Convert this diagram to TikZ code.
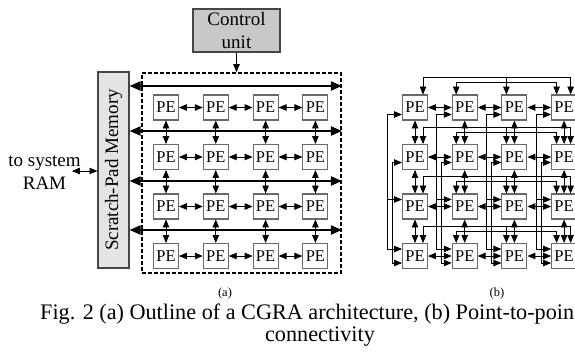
\documentclass[tikz,border=0pt]{standalone}
\usepackage{fontspec}
\setmainfont{Liberation Serif}
\usepackage{tikz}
\usetikzlibrary{arrows,arrows.meta}

\begin{document}
\begin{tikzpicture}[x=1pt,y=-1pt,
  pebox/.style={draw=peColor,fill=white,line width=1.1pt,minimum size=25pt,inner sep=0pt,font=\fontsize{16.5}{18}\selectfont},
  link/.style={<->,>=triangle 45,line width=0.8pt},
  tap/.style={->,>=triangle 45,line width=0.8pt},
  bus/.style={{Triangle[length=11pt,width=9pt]}-{Triangle[length=11pt,width=9pt]},line width=2pt},
  lbl/.style={font=\fontsize{19}{22.7}\selectfont,align=center},
  sublbl/.style={font=\fontsize{12.5}{14}\selectfont,inner sep=0pt}]
\useasboundingbox (0,0) rectangle (575,356);
\clip (0,0) rectangle (575,356);
\definecolor{peColor}{RGB}{105,105,105}
\definecolor{boxBorder}{RGB}{70,70,70}
\definecolor{cuFill}{RGB}{200,200,200}
\definecolor{spmFill}{RGB}{228,228,228}

% (a) control unit, scratch-pad and the PE array
\node[draw=boxBorder,fill=cuFill,line width=1.1pt,minimum width=87pt,minimum height=43pt,inner sep=1pt,lbl] (cu) at (236.5,30.5) {Control\\unit};
\node[draw=boxBorder,fill=spmFill,line width=1.1pt,minimum width=31pt,minimum height=196pt,inner sep=0pt,lbl] (spm) at (113.5,170) {\rotatebox{90}{Scratch-Pad Memory}};
\node[draw,line width=1.8pt,dash pattern=on 4pt off 2pt,minimum width=199pt,minimum height=200pt,inner sep=0pt] (array) at (241.5,173) {};
\foreach \r in {1,...,4}
  \foreach \c in {1,...,4}
    \node[pebox] (a-\r-\c) at ({166+49.8*(\c-1)},{107.5+49.5*(\r-1)}) {PE};
\foreach \i/\y in {1/86,2/131,3/181,4/230} {
  \coordinate (bus-\i) at (0,\y);
  \draw[bus] (spm.east |- bus-\i) -- (array.east |- bus-\i);
}
\foreach \r in {1,...,4}
  \foreach \c/\d in {1/2,2/3,3/4}
    \draw[link] (a-\r-\c.east) -- (a-\r-\d.west);
\foreach \r/\s in {1/2,2/3,3/4}
  \foreach \c in {1,...,4}
    \draw[link] (a-\r-\c.south) -- (a-\s-\c.north);
\draw[tap] (cu.south) -- (cu.south |- array.north);
\node[lbl] (ram) at (44.5,172.5) {to system\\RAM};
\coordinate (ramport) at (72,171);
\draw[link] (ramport) -- (spm.west |- ramport);
\node[sublbl] (sub-a) at (225,293) {(a)};

% (b) point-to-point wiring
\foreach \r in {1,...,4}
  \foreach \c in {1,...,4}
    \node[pebox] (b-\r-\c) at ({415+49.7*(\c-1)},{107.5+49.5*(\r-1)}) {PE};
\foreach \r in {1,...,4}
  \foreach \c/\d in {1/2,2/3,3/4}
    \draw[link] (b-\r-\c.east) -- (b-\r-\d.west);
\foreach \r/\s in {1/2,2/3,3/4}
  \foreach \c in {1,...,4}
    \draw[link] (b-\r-\c.south) -- (b-\s-\c.north);
\foreach \r in {1,...,4} {
  \draw[link] ([xshift=8pt]b-\r-1.north) |- ([xshift=6.5pt,yshift=17pt]b-\r-4.north) -- ([xshift=6.5pt]b-\r-4.north);
  \draw[tap] ([xshift=-8pt,yshift=17pt]b-\r-3.north) -- ([xshift=-8pt]b-\r-3.north);
  \draw[link] ([xshift=-8.5pt]b-\r-2.north) |- ([xshift=-7.5pt,yshift=12pt]b-\r-4.north) -- ([xshift=-7.5pt]b-\r-4.north);
}
\foreach \c in {1,...,4} {
  \draw[link] ([yshift=-7pt]b-1-\c.west) -| ([xshift=-15pt,yshift=7pt]b-4-\c.west) -- ([yshift=7pt]b-4-\c.west);
  \draw[tap] ([xshift=-15pt,yshift=7pt]b-3-\c.west) -- ([yshift=7pt]b-3-\c.west);
  \draw[link] ([yshift=-5.5pt]b-2-\c.west) -| ([xshift=-10pt,yshift=-7pt]b-4-\c.west) -- ([yshift=-7pt]b-4-\c.west);
}
\node[sublbl] (sub-b) at (497,293) {(b)};

\node[anchor=base west,inner sep=0pt,font=\fontsize{22.2}{24}\selectfont] (cap-1) at (40,319) {Fig. 2 (a) Outline of a CGRA architecture, (b) Point-to-poin};
\node[anchor=base,inner sep=0pt,font=\fontsize{22.2}{24}\selectfont] (cap-2) at (320,341) {connectivity};
\end{tikzpicture}
\end{document}
